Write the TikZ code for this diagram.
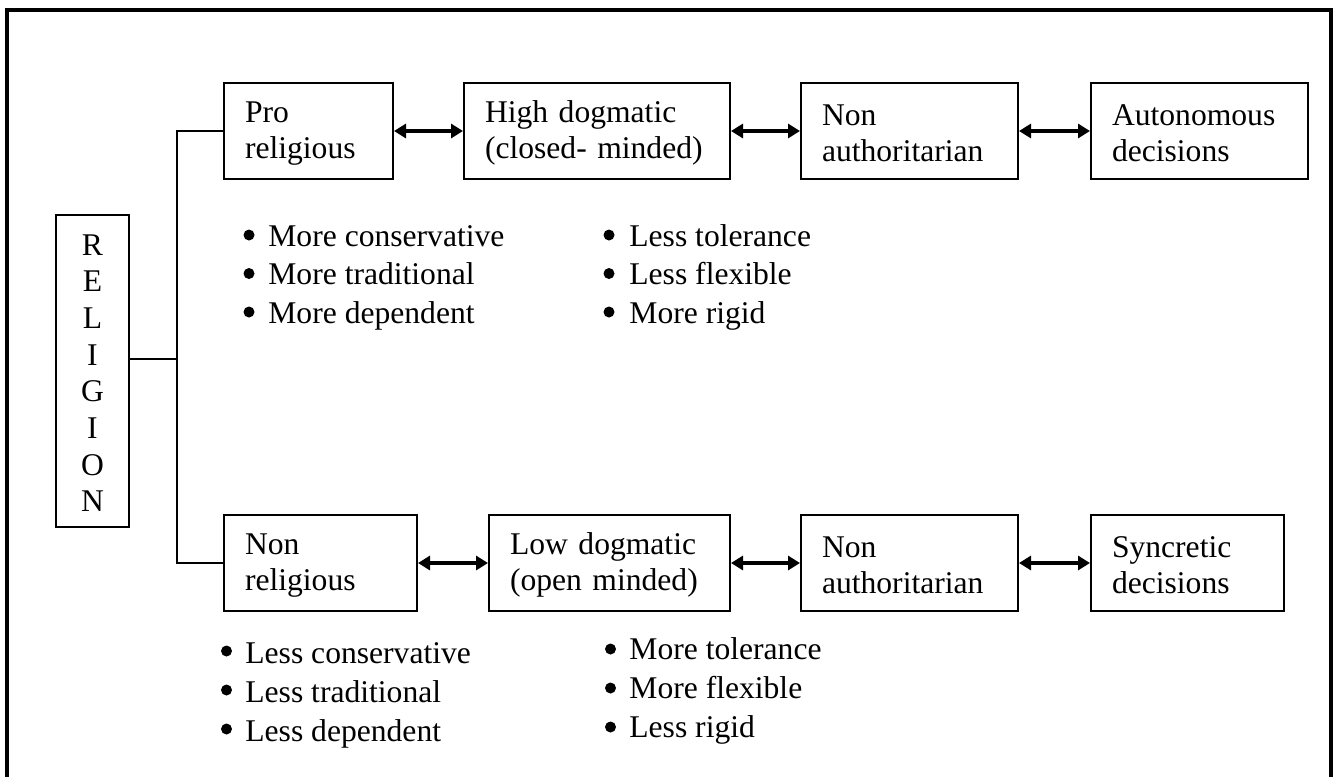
\documentclass[tikz,border=0pt]{standalone}
\usepackage{fontspec}
\setmainfont{Liberation Serif}
\usetikzlibrary{arrows.meta}

\begin{document}
\begin{tikzpicture}[x=0.5pt, y=-0.5pt,
    font=\fontsize{15.8}{18.5}\selectfont,
    box/.style={draw, line width=1pt, inner xsep=10.5pt, inner ysep=0pt,
        minimum height=48pt, text width=#1, align=left,
        font=\fontsize{15.8}{18}\selectfont,
        execute at begin node={\rule{0pt}{13pt}},
        execute at end node={\rule[-1pt]{0pt}{1pt}}},
    link/.style={line width=1pt},
    dbl/.style={{Triangle[length=6pt,width=7pt]}-{Triangle[length=6pt,width=7pt]}, line width=2.2pt},
    item/.style={anchor=base west, inner sep=0pt}]
    \useasboundingbox (0,0) rectangle (1336,777);

    % outer frame, open at the bottom
    \draw[line width=2pt] (7,777) -- (7,10) -- (1331,10) -- (1331,777);

    \node[draw, line width=1pt, minimum width=36.5pt, minimum height=156pt,
        align=center, inner sep=0pt, font=\fontsize{15.8}{18.35}\selectfont]
        (rel) at (92.5,371) {\rule{0pt}{12.5pt}R\\E\\L\\I\\G\\I\\O\\N};

    % upper row
    \node[box=63.5pt] (pro) at (308.5,131) {Pro\\religious};
    \node[box=112pt] (high) at (597,131) {High dogmatic\\(closed- minded)};
    \node[box=87.5pt] (nonat) at (909.5,131) {Non\\authoritarian};
    \node[box=87.5pt] (autodec) at (1199.5,131) {Autonomous\\decisions};

    % lower row
    \node[box=75.5pt] (nonrel) at (320.5,563) {Non\\religious};
    \node[box=99.5pt] (low) at (609.5,563) {Low dogmatic\\(open minded)};
    \node[box=87.5pt] (nonab) at (909.5,563) {Non\\authoritarian};
    \node[box=75.5pt] (sync) at (1187.5,563) {Syncretic\\decisions};

    \coordinate (fork) at (177,359);
    \draw[link] (rel.east |- fork) -- (fork);
    \draw[link] (pro.west) -| (fork) |- (nonrel.west);

    \foreach \a/\b in {pro/high, high/nonat, nonat/autodec, nonrel/low, low/nonab, nonab/sync}
        \draw[dbl] (\a.east) -- (\b.west);

    % traits
    \foreach \txt [count=\i] in {More conservative, More traditional, More dependent}{
        \node[item] (proitem\i) at (268,{246+38.5*(\i-1)}) {\txt};
        \fill ([shift={(-9.5pt,5.5pt)}]proitem\i.base west) circle (2.75pt);
    }
    \foreach \txt [count=\i] in {Less tolerance, Less flexible, More rigid}{
        \node[item] (highitem\i) at (629,{246+38.5*(\i-1)}) {\txt};
        \fill ([shift={(-10pt,5.5pt)}]highitem\i.base west) circle (2.75pt);
    }
    \foreach \txt [count=\i] in {Less conservative, Less traditional, Less dependent}{
        \node[item] (nonitem\i) at (245,{663+39*(\i-1)}) {\txt};
        \fill ([shift={(-9.25pt,6pt)}]nonitem\i.base west) circle (2.75pt);
    }
    \foreach \txt [count=\i] in {More tolerance, More flexible, Less rigid}{
        \node[item] (lowitem\i) at (629,{659+39*(\i-1)}) {\txt};
        \fill ([shift={(-9.25pt,5pt)}]lowitem\i.base west) circle (2.75pt);
    }
\end{tikzpicture}
\end{document}
